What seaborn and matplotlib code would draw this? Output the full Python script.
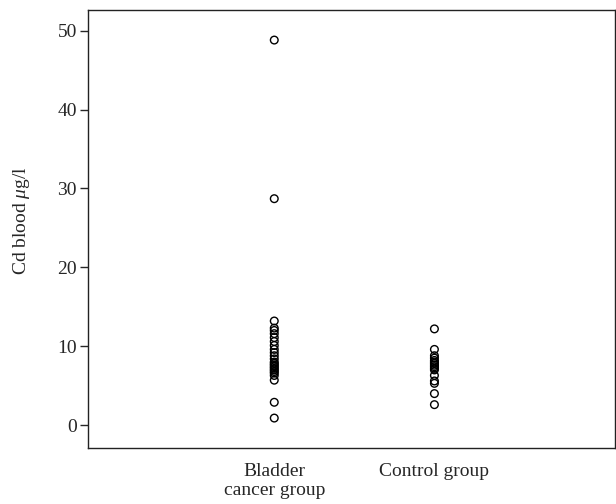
import pandas as pd
import matplotlib
matplotlib.use("Agg")
import matplotlib.pyplot as plt
import seaborn as sns

# Values (Cd in blood, ug/l)
bladder_values = [48.8, 28.7, 13.2, 12.3, 12.0, 11.6, 11.1, 10.6, 10.1, 9.6,
                  9.2, 8.8, 8.4, 8.0, 7.8, 7.6, 7.4, 7.2, 7.0, 6.8, 6.6,
                  6.3, 5.7, 2.9, 0.9]
control_values = [12.2, 9.6, 8.8, 8.5, 8.2, 8.0, 7.8, 7.6, 7.4, 7.2, 7.0,
                  6.3, 5.6, 5.3, 4.0, 2.6]
group_labels = ["Bladder\ncancer group", "Control group"]
y_ticks = [0, 10, 20, 30, 40, 50]

df = pd.DataFrame({
    "group": [group_labels[0]] * len(bladder_values) + [group_labels[1]] * len(control_values),
    "cd": bladder_values + control_values,
})

sns.set_style("white")
plt.rcParams["font.family"] = ["Liberation Serif", "DejaVu Serif"]
plt.rcParams["mathtext.fontset"] = "custom"
plt.rcParams["mathtext.it"] = "Liberation Serif:italic"
plt.rcParams["mathtext.rm"] = "Liberation Serif"

fig = plt.figure(figsize=(6.16, 5.04), dpi=100)
ax = fig.add_axes([0.143, 0.111, 0.856, 0.869])

sns.stripplot(data=df, x="group", y="cd", order=group_labels, jitter=False,
              marker="o", size=5.5, color="black", linewidth=1,
              edgecolor="black", ax=ax)
for coll in ax.collections:
    coll.set_facecolor("none")
    coll.set_edgecolor("black")

ax.set_xlim(-1.1625, 2.13)
ax.set_ylim(-2.9, 52.6)
ax.set_yticks(y_ticks)
ax.set_yticklabels([str(t) for t in y_ticks])
ax.tick_params(axis="y", left=True, length=6, width=1, direction="out",
               labelsize=14, pad=2)
ax.tick_params(axis="x", bottom=False, labelsize=14, pad=7)
ax.set_xlabel("")
ax.set_ylabel("Cd blood $\\mathit{\\mu}$g/l", fontsize=14)
ax.yaxis.set_label_coords(-0.106, 0.52)

for spine in ax.spines.values():
    spine.set_visible(True)
    spine.set_color("#222222")
    spine.set_linewidth(1)

fig.savefig("out.png", dpi=100)
